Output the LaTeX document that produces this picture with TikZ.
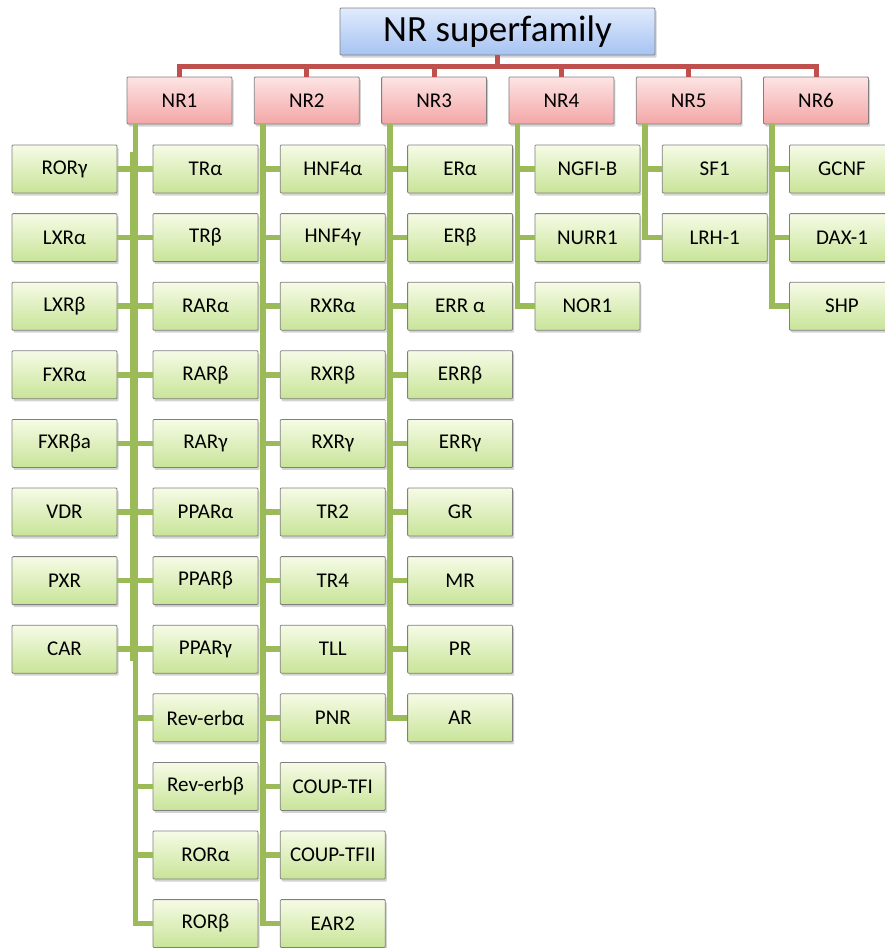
\documentclass[tikz,border=0pt]{standalone}
\usepackage{fontspec}
\setmainfont{Carlito}
\usetikzlibrary{positioning,shadows}

\definecolor{linegreen}{RGB}{155,187,89}
\definecolor{linered}{RGB}{192,80,77}
\definecolor{boxedge}{RGB}{128,128,128}

\tikzset{
  basebox/.style={draw=boxedge,line width=0.8pt,rounded corners=1pt,inner sep=0pt,
    drop shadow={opacity=0.35,shadow xshift=1.5pt,shadow yshift=-2.5pt}},
  genebox/.style={basebox,minimum width=105pt,minimum height=48pt,
    top color={rgb,255:red,246;green,251;blue,230},
    bottom color={rgb,255:red,200;green,228;blue,152},
    font=\fontsize{21}{23}\selectfont},
  classbox/.style={basebox,minimum width=105pt,minimum height=47pt,
    top color={rgb,255:red,253;green,228;blue,228},
    bottom color={rgb,255:red,243;green,166;blue,166},
    font=\fontsize{21}{23}\selectfont},
  rootbox/.style={basebox,minimum width=315pt,minimum height=47pt,
    top color={rgb,255:red,224;green,235;blue,253},
    bottom color={rgb,255:red,166;green,195;blue,242},
    font=\fontsize{37}{40}\selectfont},
  greenline/.style={linegreen,line width=5.5pt},
  redline/.style={linered,line width=5pt}
}

\begin{document}
\begin{tikzpicture}[x=1pt,y=-1pt]
  \useasboundingbox (0,0) rectangle (885,948);

  \node[rootbox] (root) at (497.5,31.5) {NR superfamily};

  % the six subfamilies
  \foreach \i in {1,...,6}
    \node[classbox] (nr\i) at ({179.5+127.3*(\i-1)},100.5) {NR\i};

  \draw[redline] (nr1.north) -- ++(0,-10) -| (nr6.north);
  \draw[redline] (root.south) -- ([yshift=10pt]root.south |- nr1.north);
  \foreach \i in {2,...,5}
    \draw[redline] (nr\i.north) -- ++(0,-10);

  % members of each subfamily
  \foreach \f/\kids in {
      1/{TRα,TRβ,RARα,RARβ,RARγ,PPARα,PPARβ,PPARγ,Rev-erbα,Rev-erbβ,RORα,RORβ},
      2/{HNF4α,HNF4γ,RXRα,RXRβ,RXRγ,TR2,TR4,TLL,PNR,COUP-TFI,COUP-TFII,EAR2},
      3/{ERα,ERβ,ERR α,ERRβ,ERRγ,GR,MR,PR,AR},
      4/{NGFI-B,NURR1,NOR1},
      5/{SF1,LRH-1},
      6/{GCNF,DAX-1,SHP}} {
    \coordinate (t\f) at ([xshift=9pt]nr\f.south west);
    \foreach \lbl [count=\k from 0] in \kids {
      \node[genebox] (c\f-\k) at ({179.5+127.3*(\f-1)+26},{169+68.6*\k}) {\lbl};
      \draw[greenline] (t\f) |- (c\f-\k.west);
    }
  }

  % extra NR1 members on the left
  \coordinate (lt) at ([xshift=-3pt]t1);
  \foreach \lbl [count=\k from 0] in {RORγ,LXRα,LXRβ,FXRα,FXRβa,VDR,PXR,CAR} {
    \node[genebox] (l\k) at (64.5,{169+68.6*\k}) {\lbl};
    \draw[greenline] (l\k.east) -- (l\k.east -| t1);
  }
  \draw[greenline] ([yshift=-7pt]lt |- l0.north) -- ([yshift=-12pt]lt |- l7.east);
\end{tikzpicture}
\end{document}
